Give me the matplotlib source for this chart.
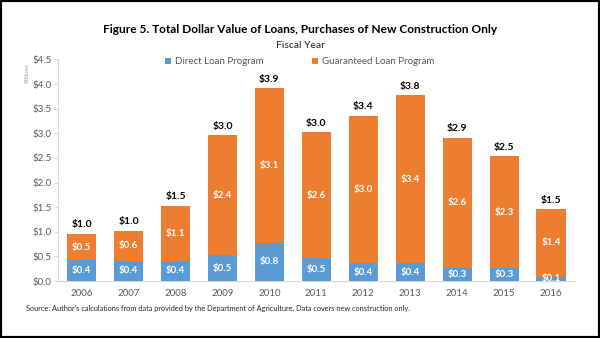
import matplotlib
matplotlib.use("Agg")
import matplotlib.pyplot as plt
import numpy as np
from matplotlib.patches import Rectangle

plt.rcParams['font.family'] = ['Lato', 'DejaVu Sans']

years = ['2006', '2007', '2008', '2009', '2010', '2011',
         '2012', '2013', '2014', '2015', '2016']
# billions of dollars
direct = [0.42, 0.41, 0.41, 0.52, 0.78, 0.46, 0.36, 0.36, 0.27, 0.26, 0.09]
guaranteed = [0.54, 0.61, 1.12, 2.44, 3.14, 2.56, 3.00, 3.41, 2.64, 2.27, 1.37]
yticks = [0.0, 0.5, 1.0, 1.5, 2.0, 2.5, 3.0, 3.5, 4.0, 4.5]

blue = '#5B9BD5'
orange = '#ED7D31'
grey = '#595959'

direct = np.array(direct)
guaranteed = np.array(guaranteed)
total = direct + guaranteed
x = np.arange(len(years))

fig = plt.figure(figsize=(6, 3.38), dpi=100)
ax = fig.add_axes([0.097, 0.1686, 0.8605, 0.6554])

b1 = ax.bar(x, direct, width=0.62, color=blue, zorder=3)
b2 = ax.bar(x, guaranteed, width=0.62, bottom=direct, color=orange, zorder=3)

for i in range(len(x)):
    ax.text(x[i], direct[i] / 2 if direct[i] > 0.2 else 0.05,
            '$%.1f' % direct[i], ha='center', va='center',
            color='white', fontsize=7, fontweight='bold', zorder=4)
    ax.text(x[i], direct[i] + guaranteed[i] / 2, '$%.1f' % guaranteed[i],
            ha='center', va='center', color='white', fontsize=7,
            fontweight='bold', zorder=4)
    ax.text(x[i], total[i] + 0.09, '$%.1f' % total[i], ha='center',
            va='bottom', color='black', fontsize=7.5, fontweight='bold')

ax.set_xlim(-0.5, len(x) - 0.5)
ax.set_ylim(0, 4.5)
ax.set_yticks(yticks)
ax.set_yticklabels(['$%.1f' % v for v in yticks])
ax.set_xticks(x)
ax.set_xticklabels(years)
ax.tick_params(axis='y', length=3, color='#D9D9D9', labelsize=7,
               labelcolor=grey, pad=2)
ax.tick_params(axis='x', length=0, labelsize=7, labelcolor=grey, pad=6)
for side in ['top', 'right']:
    ax.spines[side].set_visible(False)
ax.spines['left'].set_color('#D9D9D9')
ax.spines['bottom'].set_color('#D9D9D9')

ax.set_ylabel('Billions', fontsize=4.5, color='#A0A0A0')
ax.yaxis.set_label_coords(-0.055, 0.94)

ax.legend([b1, b2], ['Direct Loan Program', 'Guaranteed Loan Program'],
          loc='upper left', bbox_to_anchor=(0.19, 1.05), ncol=2,
          frameon=False, fontsize=7, labelcolor=grey, handlelength=0.6,
          handleheight=0.6, handletextpad=0.4, columnspacing=5.0)

fig.text(0.5, 0.913, 'Figure 5. Total Dollar Value of Loans, Purchases of New Construction Only',
         ha='center', va='center', fontsize=8.6, fontweight='bold')
fig.text(0.5, 0.866, 'Fiscal Year', ha='center', va='center', fontsize=7.5,
         color='#262626')
fig.text(0.043, 0.087, "Source: Author's calculations from data provided by the "
         "Department of Agriculture. Data covers new construction only.",
         ha='left', va='center', fontsize=5.3, color='#262626')

fig.patches.append(Rectangle((0, 0), 1, 1, transform=fig.transFigure,
                             fill=False, edgecolor='black', linewidth=3))

fig.savefig('out.png', dpi=100)
